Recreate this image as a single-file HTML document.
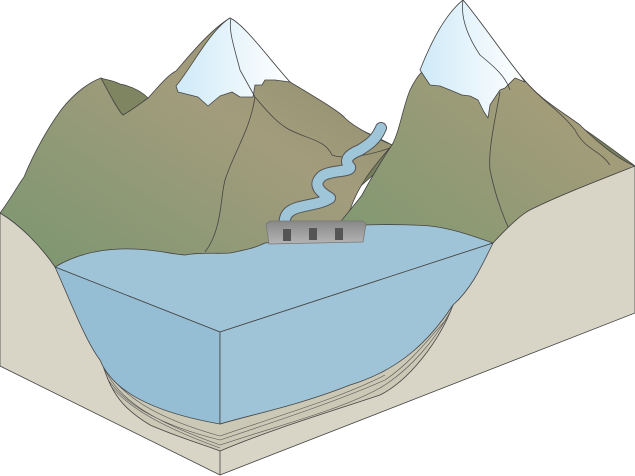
<!DOCTYPE html>
<html><head><meta charset="utf-8"><style>html,body{margin:0;padding:0;background:#fff}svg{display:block}</style></head>
<body>
<svg width="635" height="476" viewBox="0 0 635 476" xmlns="http://www.w3.org/2000/svg">
<defs>
<linearGradient id="mg" x1="0" y1="1" x2="1" y2="0"><stop offset="0" stop-color="#7a9670"/><stop offset="0.6" stop-color="#a39c7c"/><stop offset="1" stop-color="#8a8c68"/></linearGradient>
<linearGradient id="mg2" x1="0" y1="1" x2="1" y2="0"><stop offset="0" stop-color="#7d9870"/><stop offset="0.7" stop-color="#a69c7a"/><stop offset="1" stop-color="#96946f"/></linearGradient>
<linearGradient id="dk" x1="0" y1="0" x2="1" y2="0"><stop offset="0" stop-color="#8a8a68"/><stop offset="1" stop-color="#737c5a"/></linearGradient>
<linearGradient id="sn" x1="0" y1="0" x2="1" y2="0"><stop offset="0" stop-color="#cfeaf8"/><stop offset="1" stop-color="#ffffff"/></linearGradient>
<linearGradient id="dm" x1="0" y1="0" x2="0" y2="1"><stop offset="0" stop-color="#888"/><stop offset="1" stop-color="#b5b5b5"/></linearGradient>
</defs>
<g stroke="#444" stroke-width="0.8" stroke-linejoin="round">
<!-- back dark ridge -->
<path d="M255,85 C290,100 320,110 340,120 C360,130 380,138 392,145 L390,160 L300,240 L250,240 Z" fill="url(#dk)"/>
<path d="M500,75 C520,90 540,100 560,115 C580,125 600,140 635,166 L600,200 L520,200 Z" fill="#76805c"/>
<!-- left mountain -->
<path d="M0,213 C10,200 18,185 24,177 C35,150 50,125 61,110 C75,92 90,82 101,78 C110,95 118,110 123,115 C135,108 142,102 148,98 C160,85 168,75 176,71 C190,55 210,30 230,18 C245,25 270,60 290,82 C320,100 340,112 345,118 C355,128 380,140 392,145 C380,160 360,180 350,210 L330,240 L300,262 L200,270 L120,270 L60,270 L55,267 C40,245 20,225 0,213 Z" fill="url(#mg)"/>
<path d="M101,78 C110,95 118,110 123,115 C135,108 142,102 148,98 C140,90 130,86 120,84 C112,80 106,80 101,78 Z" fill="#808561"/>
<path d="M255,97 C250,130 235,150 225,180 C220,200 222,230 205,252" fill="none"/>
<path d="M255,97 C270,115 280,125 290,130 C310,140 325,140 332,155 C345,160 370,155 390,148" fill="none"/>
<!-- river -->
<path d="M381,128 C376,140 368,145 360,150 C345,156 345,162 350,167 C352,172 330,170 322,176 C312,185 320,192 330,198 C320,205 300,205 292,210 C284,214 284,222 285,228" fill="none" stroke="#555" stroke-width="12" stroke-linecap="round"/>
<path d="M381,128 C376,140 368,145 360,150 C345,156 345,162 350,167 C352,172 330,170 322,176 C312,185 320,192 330,198 C320,205 300,205 292,210 C284,214 284,222 285,228" fill="none" stroke="#9fc5d8" stroke-width="10" stroke-linecap="round"/>
<!-- right mountain -->
<path d="M392,145 C400,130 402,110 410,90 C415,80 420,72 425,70 C432,40 445,15 463,0 C480,20 500,50 520,75 C540,100 560,110 580,125 C600,145 620,160 635,166 C600,180 560,195 530,210 C515,220 505,230 493,243 C470,250 440,250 420,250 L365,250 L320,250 C340,220 355,205 362,195 C370,180 385,155 392,145 Z" fill="url(#mg2)"/>
<path d="M500,92 C495,120 488,150 490,170 C495,195 505,225 520,250" fill="none"/>
<path d="M520,75 C540,100 560,110 575,130 C585,150 600,150 610,165" fill="none"/>
<!-- snow caps -->
<path d="M176,86 C190,70 210,30 230,18 C245,25 270,60 290,82 L275,80 L265,80 L262,85 L255,85 L253,97 L240,97 L232,92 L220,96 L208,106 L198,97 L190,95 L178,92 Z" fill="url(#sn)"/>
<path d="M231,18 C228,30 235,50 240,70 L255,97" fill="none"/>
<path d="M420,70 C432,40 445,15 463,0 C480,20 500,50 520,75 L525,82 L515,78 L505,88 L500,90 L490,105 L488,118 L484,112 L478,100 L470,96 L462,95 L450,90 L440,86 L430,85 Z" fill="url(#sn)"/>
<path d="M463,0 C460,20 470,40 480,55 C492,65 505,75 510,90" fill="none"/>
<!-- block -->
<path d="M0,213 C20,225 40,245 55,267 L220,332 L493,243 C505,230 520,215 530,210 C560,195 600,180 635,166 L635,313 L220,475 L0,366 Z" fill="#d8d5c6"/>
<path d="M220,332 L220,475" fill="none"/>
<!-- sediment -->
<path d="M100,355 C110,395 125,410 150,425 C180,438 205,445 220,451 C270,430 320,415 380,395 C410,380 440,340 453,305 L430,320 L220,424 Z" fill="#cbc8b6"/>
<path d="M105,370 C120,400 150,420 220,445 C280,425 340,410 380,388 C410,370 435,340 450,312 M107,378 C125,405 160,425 220,440 C280,420 340,400 385,380 C415,360 435,330 448,318 M103,365 C120,395 155,418 220,436 C290,412 345,396 385,375 M110,385 C130,410 170,430 220,448" fill="none" stroke="#555" stroke-width="0.6"/>
<!-- lake surface -->
<path d="M55,267 C70,258 90,250 120,249 C150,248 170,254 185,255 C200,252 215,254 230,253 C245,250 255,248 265,243 L300,240 L365,225 C390,224 420,225 430,226 C450,228 470,235 493,243 L220,332 Z" fill="#9fc4d7"/>
<!-- lake front faces -->
<path d="M55,267 C70,300 85,340 100,360 C110,385 140,410 220,424 L220,332 Z" fill="#95bdd4"/>
<path d="M220,332 L493,243 C480,270 470,290 453,305 C430,340 400,370 350,385 C300,405 250,415 220,424 Z" fill="#a0c4d7"/>
<!-- dam -->
<path d="M266,224 L270,221 L363,221 L366,224 L363,242 L269,244 Z" fill="url(#dm)" stroke="#777"/>
<rect x="283" y="229" width="8" height="12" fill="#555" stroke="none"/>
<rect x="309" y="228" width="8" height="12" fill="#555" stroke="none"/>
<rect x="335" y="228" width="8" height="12" fill="#555" stroke="none"/>
</g>
</svg>
</body></html>
